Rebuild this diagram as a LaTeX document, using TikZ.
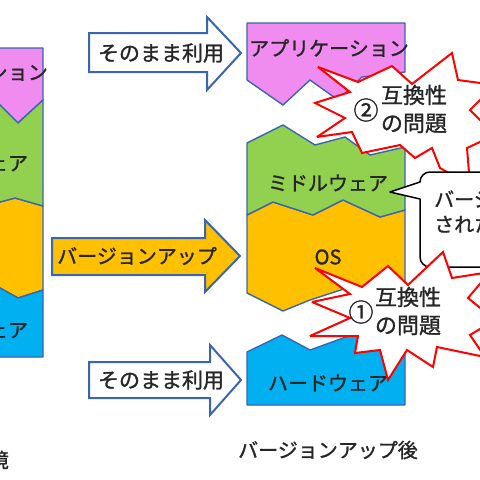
\documentclass[tikz,border=0pt]{standalone}
\usepackage{fontspec}
\setmainfont{Noto Sans CJK JP}[FakeBold=1.2]
\definecolor{bord}{HTML}{3A66B0}
\definecolor{cpink}{HTML}{F08CF0}
\definecolor{cgreen}{HTML}{92D050}
\definecolor{corange}{HTML}{FFC000}
\definecolor{cblue}{HTML}{00B0F0}
\definecolor{cred}{HTML}{FF0000}
\begin{document}
\begin{tikzpicture}[x=1pt,y=-1pt,
  layer/.style={draw=bord,line width=1.4pt,line join=round},
  barrow/.style={draw=bord,line width=2pt,line join=miter},
  boom/.style={draw=cred,fill=white,line width=2pt,line join=miter,miter limit=3},
  bubble/.style={draw=black,fill=white,line width=1.5pt,line join=round},
  lbl/.style={inner sep=0pt,text=black!85,font=\fontsize{20}{24}\selectfont},
  lblb/.style={inner sep=0pt,text=black!85,font=\fontsize{21}{25}\selectfont},
  boomtxt/.style={inner sep=0pt,align=center,text=black!85,font=\fontsize{22}{28}\selectfont},
  numtxt/.style={inner sep=0pt,text=black!85,font=\fontsize{25}{28}\selectfont},
]
\useasboundingbox (0,0) rectangle (480,480);
\fill[white] (0,0) rectangle (480,480);

% ---------- left stack (before) ----------
\filldraw[layer,fill=cpink] (-114,48) -- (43,48) -- (43,100) -- (18,123) -- (-5,100) -- (-114,100) -- cycle;
\filldraw[layer,fill=corange] (-114,202) -- (0,202) -- (15,198) -- (43,206) -- (43,290) -- (18,298) -- (0,288) -- (-114,288) -- cycle;
\filldraw[layer,fill=cgreen] (-114,100) -- (-5,100) -- (18,123) -- (43,100) -- (43,206) -- (15,198) -- (0,202) -- (-114,202) -- cycle;
\filldraw[layer,fill=cblue] (-114,288) -- (0,288) -- (18,298) -- (43,290) -- (43,357) -- (-114,357) -- cycle;
\node[lbl] (lapp) at (-32,72) {アプリケーション};
\node[lbl] (lmid) at (-32,163) {ミドルウェア};
\node[lbl] (los) at (-32,245) {OS};
\node[lbl] (lhw) at (-32,330) {ハードウェア};
\node[lbl,anchor=east] (lcap) at (9,460) {現在の環境};

% ---------- block arrows ----------
\filldraw[barrow,fill=white] (89,33) -- (207,33) -- (207,17) -- (241,53) -- (207,90) -- (207,72) -- (89,72) -- cycle;
\filldraw[barrow,fill=corange] (52,238) -- (205,238) -- (205,220) -- (240,256) -- (205,292) -- (205,275) -- (52,275) -- cycle;
\filldraw[barrow,fill=white] (89,362) -- (210,362) -- (210,345) -- (241,380) -- (210,415) -- (210,398) -- (89,398) -- cycle;
\node[lblb] (a1) at (161,53) {そのまま利用};
\node[lbl] (a2) at (137,256) {バージョンアップ};
\node[lblb] (a3) at (161,380) {そのまま利用};

% ---------- right stack (after) ----------
\filldraw[layer,fill=cpink] (247,23) -- (405,23) -- (405,72) -- (362,77) -- (338,100) -- (310,80) -- (283,105) -- (247,80) -- cycle;
\filldraw[layer,fill=corange] (247,215) -- (273,202) -- (313,215) -- (343,200) -- (380,217) -- (405,210) -- (405,285) -- (350,287) -- (310,300) -- (283,311) -- (247,293) -- cycle;
\filldraw[layer,fill=cgreen] (247,143) -- (283,125) -- (315,145) -- (345,137) -- (370,155) -- (405,147) -- (405,210) -- (380,217) -- (343,200) -- (313,215) -- (273,202) -- (247,215) -- cycle;
\filldraw[layer,fill=cblue] (247,352) -- (282,335) -- (310,350) -- (357,333) -- (405,340) -- (405,405) -- (247,405) -- cycle;
\node[lbl] (rapp) at (329,48) {アプリケーション};
\node[lbl] (rmid) at (328,183) {ミドルウェア};
\node[lbl] (ros) at (328,257) {OS};
\node[lbl] (rhw) at (328,383) {ハードウェア};
\node[lbl] (rcap) at (328,450) {バージョンアップ後};

% ---------- explosion 2 ----------
\filldraw[boom] (318,67) -- (358,82) -- (392,66) -- (412,84) -- (452,53) -- (458,80) -- (495,85) -- (470,110) -- (495,135) -- (467,148) -- (470,185) -- (440,168) -- (432,148) -- (415,158) -- (400,145) -- (362,153) -- (352,132) -- (317,137) -- (345,118) -- (315,103) -- (350,92) -- cycle;
\node[boomtxt] (e2a) at (414,109) {互換性\\の問題};
\node[numtxt] (e2n) at (366,110) {②};

% ---------- callout ----------
\draw[bubble] (390,192) -- (420,182) [rounded corners=10] -- (420,172) -- (540,172) -- (540,267) -- (420,267) [sharp corners] -- (420,199) -- cycle;
\node[lbl,align=left,anchor=north west,font=\fontsize{20}{25}\selectfont] (bt) at (434,190) {バージョンアップ\\されたOS};

% ---------- explosion 1 ----------
\filldraw[boom] (315,268) -- (362,287) -- (388,266) -- (408,285) -- (443,252) -- (452,278) -- (490,272) -- (468,298) -- (495,320) -- (470,335) -- (485,357) -- (437,347) -- (433,367) -- (407,350) -- (388,380) -- (380,350) -- (355,353) -- (358,336) -- (310,336) -- (350,318) -- (312,302) -- (350,294) -- cycle;
\node[boomtxt] (e1a) at (408,311) {互換性\\の問題};
\node[numtxt] (e1n) at (361,312) {①};
\end{tikzpicture}
\end{document}
